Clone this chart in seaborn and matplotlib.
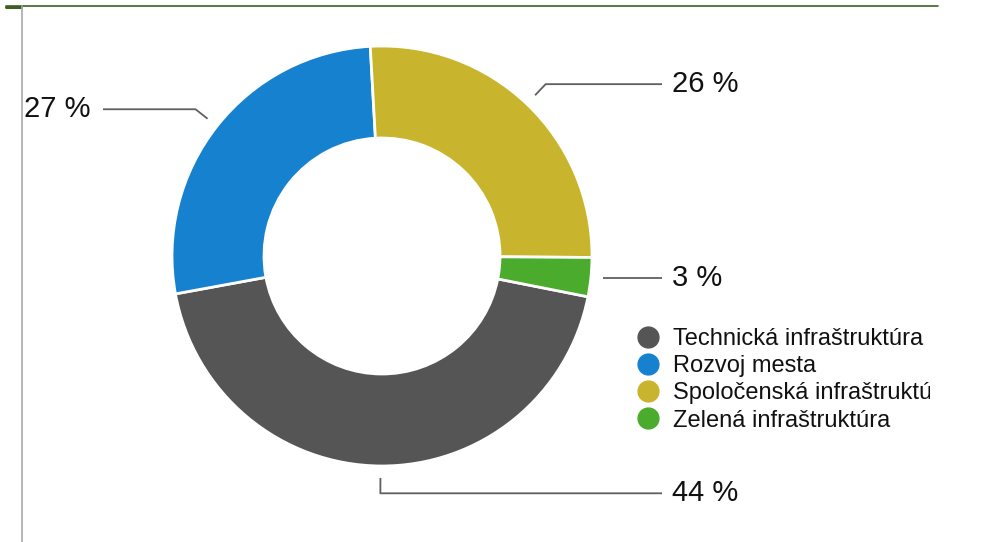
import numpy as np
import matplotlib
matplotlib.use("Agg")
import matplotlib.pyplot as plt
from matplotlib.lines import Line2D
from matplotlib.patches import Rectangle
import seaborn as sns

# Shares of the investment plan by category (percent)
categories = ["Technická infraštruktúra", "Rozvoj mesta",
              "Spoločenská infraštruktúra", "Zelená infraštruktúra"]
shares = [44, 27, 26, 3]
labels = ["44 %", "27 %", "26 %", "3 %"]

sns.set_theme(style="white")
plt.rcParams["font.family"] = ["Liberation Sans", "DejaVu Sans"]
palette = sns.color_palette(["#555555", "#1682cf", "#c9b42d", "#4bab2d"])

W, H = 990, 542
fig = plt.figure(figsize=(W / 100, H / 100), dpi=100)
ax = fig.add_axes([0, 0, 1, 1])

cx, cy, R, hole = 382, 286, 210, 118
wedges, _ = ax.pie(shares, colors=palette, startangle=-11.2, counterclock=False,
                   center=(cx, cy), radius=R,
                   wedgeprops=dict(width=R - hole, edgecolor="white", linewidth=2))

# Leader lines and value labels
for w, lab in zip(wedges, labels):
    ang = np.deg2rad((w.theta1 + w.theta2) / 2)
    ca, sa = np.cos(ang), np.sin(ang)
    x0, y0 = cx + 1.057 * R * ca, cy + 1.057 * R * sa
    if abs(sa) < 0.2:
        x1, y1 = x0, y0
    else:
        x1, y1 = cx + 1.13 * R * ca, cy + 1.13 * R * sa
    if ca >= -0.05:
        xe = 662
        ax.plot([x0, x1, xe], [y0, y1, y1], color="#5f5f5f", lw=1.3,
                solid_capstyle="butt")
        ax.text(xe + 10, y1, lab, fontsize=21, ha="left", va="center",
                color="#111111")
    else:
        xe = 103
        ax.plot([x0, x1, xe], [y0, y1, y1], color="#5f5f5f", lw=1.3,
                solid_capstyle="butt")
        ax.text(xe - 13, y1, lab, fontsize=21, ha="right", va="center",
                color="#111111")

ax.set_xlim(0, W)
ax.set_ylim(0, H)
ax.set_aspect("equal")
ax.axis("off")

# Legend with round markers
handles = [Line2D([], [], marker="o", linestyle="none", markersize=15,
                  markerfacecolor=c, markeredgecolor=c) for c in palette]
leg = ax.legend(handles, categories, loc="upper left",
                bbox_to_anchor=(634 / W, 1 - 328 / H), frameon=False,
                fontsize=17, labelspacing=0.22, handletextpad=0.45,
                handlelength=1.2, borderaxespad=0, borderpad=0)
for t in leg.get_texts():
    t.set_color("#111111")

# Panel frame: dark green top rule and light grey left rule
fig.add_artist(Line2D([6 / W, 938 / W], [1 - 6 / H, 1 - 6 / H],
                      color="#3f5f22", lw=1.2))
fig.add_artist(Line2D([6 / W, 21 / W], [1 - 6.5 / H, 1 - 6.5 / H],
                      color="#3f5f22", lw=2.2))
fig.add_artist(Line2D([21.5 / W, 21.5 / W], [0, 1 - 6 / H],
                      color="#aaaaaa", lw=1.2))
# Panel is cut off on its right side
fig.add_artist(Rectangle((930 / W, 0), 1, 1 - 8 / H, transform=fig.transFigure,
                         facecolor="white", edgecolor="none", zorder=10))

fig.savefig("out.png", dpi=100, facecolor="white")
